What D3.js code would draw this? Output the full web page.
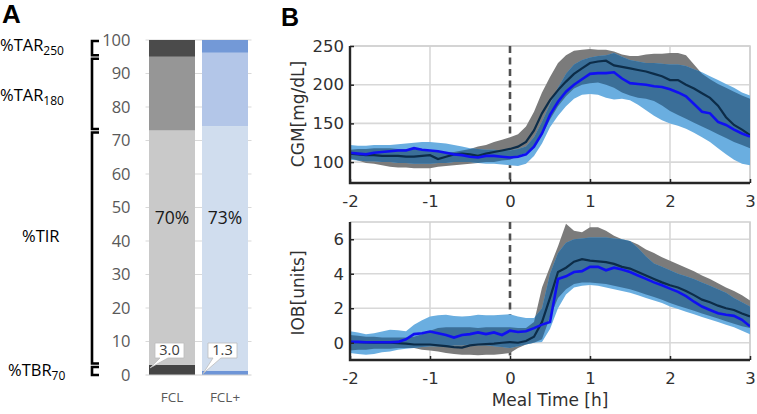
<!DOCTYPE html>
<html><head><meta charset="utf-8">
<script src="https://cdn.jsdelivr.net/npm/d3@7"></script>
<style>body{margin:0;background:#fff}svg{display:block}</style>
</head><body><svg id="c" width="757" height="414"></svg>
<script>
// ---------- Panel A data ----------
const groups = ["FCL", "FCL+"];
const segments = ["TBR", "TIR", "TAR180", "TAR250"];
const fclPct = [3.0, 70, 22, 5];
const fclPlusPct = [1.3, 73, 21.9, 3.8];
const pctTicks = [0, 10, 20, 30, 40, 50, 60, 70, 80, 90, 100];
const fclColors = ["#454545", "#c9c9c9", "#969696", "#4b4b4b"];
const fclPlusColors = ["#6e95d7", "#d0ddee", "#b3c6e8", "#7399d7"];
const bracketLabels = [
  {main: "%TAR", sub: "250"},
  {main: "%TAR", sub: "180"},
  {main: "%TIR", sub: ""},
  {main: "%TBR", sub: "70"}
];

// ---------- Panel B data ----------
const timeH = [-2.0,-1.9,-1.8,-1.7,-1.6,-1.5,-1.4,-1.3,-1.2,-1.1,-1.0,-0.9,-0.8,-0.7,-0.6,-0.5,-0.4,-0.3,-0.2,-0.1,
  0.0,0.1,0.2,0.3,0.4,0.5,0.6,0.7,0.8,0.9,1.0,1.1,1.2,1.3,1.4,1.5,1.6,1.7,1.8,1.9,
  2.0,2.1,2.2,2.3,2.4,2.5,2.6,2.7,2.8,2.9,3.0];
const xTicks = [-2, -1, 0, 1, 2, 3];

const cgmTicks = [100, 150, 200, 250];
const cgmFclMean = [111,110,109,109,108,108,108,107,107,108,109,104,107,110,111,110,108,111,113,115,
  117,120,126,141,163,180,193,204,214,221,228,230,231,225,223,221,219,217,214,211,
  206,206,200,195,189,183,173,158,148,142,135];
const cgmFclLo = [105,102,99,98,96,94,93,93,92,92,92,94,95,96,97,98,99,100,100,102,
  103,108,112,120,135,155,172,185,195,200,202,203,200,196,190,186,183,182,179,173,
  166,161,156,151,146,141,136,131,126,122,118];
const cgmFclHi = [116,117,117,118,118,118,117,117,117,115,114,113,112,113,115,117,120,122,126,129,
  132,136,146,165,190,210,228,238,244,245,246,245,245,243,239,237,237,239,240,240,
  241,241,238,226,214,207,201,196,191,186,182];
const cgmPlusMean = [112,111,110,112,113,114,115,115,118,116,115,114,112,110,109,107,106,108,108,107,
  106,107,110,120,137,161,178,191,200,207,214,215,215,216,208,202,201,200,198,197,
  194,190,185,175,165,163,152,148,142,137,133];
const cgmPlusLo = [103,102,101,101,100,100,99,99,98,98,98,99,99,100,100,100,99,98,98,97,
  96,95,98,108,124,145,160,172,182,187,188,187,183,181,182,180,174,167,160,154,
  150,147,143,138,132,126,118,110,103,98,96];
const cgmPlusHi = [122,121,121,122,122,122,123,124,125,126,126,125,124,122,120,118,117,116,116,115,
  115,117,120,132,152,175,196,214,226,232,235,237,238,241,236,232,230,228,228,227,
  226,226,224,220,216,211,206,201,196,190,186];

const iobTicks = [0, 2, 4, 6];
const iobFclMean = [0.05,0.03,0.02,0,0,0,-0.03,-0.05,-0.1,-0.1,-0.1,-0.15,-0.2,-0.25,-0.28,-0.15,-0.1,-0.08,-0.05,0,
  0.04,0,0.1,0.35,1.2,2.6,4.1,4.35,4.7,4.85,4.76,4.72,4.67,4.57,4.4,4.3,4.1,3.9,3.7,3.5,
  3.33,3.2,3.0,2.76,2.5,2.35,2.15,2.0,1.9,1.7,1.52];
const iobFclLo = [-0.45,-0.4,-0.4,-0.35,-0.35,-0.35,-0.3,-0.3,-0.3,-0.4,-0.45,-0.5,-0.6,-0.65,-0.7,-0.7,-0.72,-0.7,-0.7,-0.65,
  -0.6,-0.3,-0.1,0,0.2,1.5,2.6,3.1,3.4,3.5,3.5,3.45,3.4,3.3,3.2,3.1,2.95,2.8,2.65,2.5,
  2.3,2.15,2.0,1.85,1.7,1.55,1.4,1.25,1.1,0.95,0.85];
const iobFclHi = [0.45,0.4,0.35,0.35,0.3,0.3,0.3,0.3,0.35,0.5,0.7,0.85,0.9,0.9,0.9,0.9,0.85,0.9,0.9,0.9,
  0.9,0.85,0.85,1.2,3.2,4.4,5.6,6.9,6.5,6.4,6.7,6.7,6.5,6.2,6.0,5.9,5.7,5.4,5.2,4.95,
  4.75,4.55,4.35,4.15,3.9,3.7,3.45,3.2,3.0,2.75,2.45];
const iobPlusMean = [0.05,0.05,0.03,0.03,0.03,0.03,0.05,0.2,0.5,0.55,0.65,0.55,0.45,0.3,0.45,0.5,0.6,0.5,0.6,0.45,
  0.7,0.62,0.67,0.85,1.05,1.2,3.7,3.85,4.1,4.15,4.4,4.4,4.2,4.35,4.25,4.1,3.9,3.7,3.5,3.33,
  3.14,2.95,2.7,2.38,2.1,1.9,1.71,1.62,1.56,1.33,0.95];
const iobPlusLo = [-0.6,-0.65,-0.7,-0.65,-0.55,-0.5,-0.4,-0.35,-0.3,-0.25,-0.2,-0.2,-0.2,-0.15,-0.15,-0.1,-0.15,-0.15,-0.2,-0.25,
  -0.3,-0.2,-0.1,0,0.05,0.8,2.0,2.8,3.2,3.3,3.35,3.3,3.2,3.1,3.0,2.9,2.75,2.6,2.45,2.3,
  2.1,1.95,1.8,1.65,1.5,1.35,1.2,1.05,0.9,0.7,0.5];
const iobPlusHi = [0.67,0.6,0.5,0.55,0.65,0.76,0.72,0.67,1.05,1.3,1.52,1.6,1.62,1.55,1.52,1.55,1.62,1.6,1.6,1.62,
  1.65,1.52,1.43,1.43,2.0,4.0,5.2,5.8,6.0,6.05,6.1,6.1,6.1,6.05,6.0,5.9,5.5,5.0,4.6,4.4,
  4.2,4.0,3.85,3.7,3.5,3.3,3.1,2.9,2.6,2.35,2.1];

// ---------- drawing ----------
const svg = d3.select("#c");
const fontA = "'Open Sans', Lato, sans-serif";
const fontB = "'DejaVu Sans', 'Liberation Sans', sans-serif";

// ===== Panel A =====
svg.append("text").attr("x", 2).attr("y", 23).text("A")
  .attr("font-family", "'Liberation Sans', Arial, sans-serif").attr("font-weight", "bold").attr("font-size", 26);

const yA = d3.scaleLinear().domain([0, 100]).range([375, 40]);
const xA = d3.scaleBand().domain(groups).range([145.5, 251.5]).paddingInner(0.132).paddingOuter(0.066);
const [ax0, ax1] = xA.range();

svg.append("g").selectAll("line").data(pctTicks.filter(d => d > 0)).join("line")
  .attr("x1", ax0).attr("x2", ax1).attr("y1", d => yA(d)).attr("y2", d => yA(d))
  .attr("stroke", "#d9d9d9").attr("stroke-width", 1);

const gYA = svg.append("g").attr("transform", `translate(${ax0},0)`)
  .call(d3.axisLeft(yA).tickValues(pctTicks).tickSize(0).tickPadding(15));
gYA.select(".domain").remove();
gYA.selectAll("text").attr("font-family", fontA).attr("font-size", 16.5).attr("fill", "#595959");

const rowsA = groups.map((g, i) => {
  const vals = i === 0 ? fclPct : fclPlusPct;
  const r = {group: g};
  segments.forEach((s, j) => r[s] = vals[j]);
  return r;
});
const stackA = d3.stack().keys(segments)(rowsA);
const colorsByGroup = {"FCL": fclColors, "FCL+": fclPlusColors};

stackA.forEach((layer, j) => {
  svg.append("g").selectAll("rect").data(layer).join("rect")
    .attr("x", d => xA(d.data.group))
    .attr("width", xA.bandwidth())
    .attr("y", d => yA(d[1]))
    .attr("height", d => yA(d[0]) - yA(d[1]))
    .attr("fill", d => colorsByGroup[d.data.group][j]);
});

svg.append("line").attr("x1", ax0).attr("x2", ax1).attr("y1", yA(0)).attr("y2", yA(0))
  .attr("stroke", "#d0d0d0").attr("stroke-width", 1);

// TIR percent labels
rowsA.forEach(r => {
  svg.append("text").attr("x", xA(r.group) + xA.bandwidth() / 2).attr("y", yA(47) + 6)
    .attr("text-anchor", "middle").attr("font-family", fontA).attr("font-size", 17.5).attr("fill", "#1a1a1a")
    .text(Math.round(r.TIR) + "%");
});

// TBR callouts
rowsA.forEach(r => {
  const bx = xA(r.group) + 6, bw = 29, by = yA(10) + 1.5, bh = 15;
  const tipX = xA(r.group) + 1, tipY = yA(r.TBR) + 3;
  const p = d3.path();
  p.moveTo(bx, by); p.lineTo(bx + bw, by); p.lineTo(bx + bw, by + bh);
  p.lineTo(bx + 13, by + bh); p.lineTo(tipX, tipY); p.lineTo(bx + 5, by + bh);
  p.lineTo(bx, by + bh); p.closePath();
  svg.append("path").attr("d", p.toString()).attr("fill", "#fff").attr("stroke", "#bdbdbd").attr("stroke-width", 0.8);
  svg.append("text").attr("x", bx + bw / 2).attr("y", by + bh - 3)
    .attr("text-anchor", "middle").attr("font-family", fontA).attr("font-size", 14.5).attr("fill", "#404040")
    .text(d3.format(".1f")(r.TBR));
});

// category labels
groups.forEach(g => {
  svg.append("text").attr("x", xA(g) + xA.bandwidth() / 2).attr("y", 402)
    .attr("text-anchor", "middle").attr("font-family", fontA).attr("font-size", 13.5).attr("fill", "#595959")
    .text(g);
});

// brackets
const bracketRanges = [[95, 100], [73, 95], [3, 73], [0, 3]];
const bx = 92, bTick = 7;
bracketRanges.forEach(([lo, hi], i) => {
  const yTop = yA(hi) + (i === 0 ? 1 : 2), yBot = yA(lo) - (i === 3 ? 0 : 1.5);
  svg.append("path")
    .attr("d", `M${bx + bTick},${yTop}H${bx}V${yBot}H${bx + bTick}`)
    .attr("fill", "none").attr("stroke", "#000").attr("stroke-width", 2.6);
});
const labelPos = [[0, 51], [0, 101], [22, 242], [8, 376]];
bracketLabels.forEach((l, i) => {
  const t = svg.append("text").attr("x", labelPos[i][0]).attr("y", labelPos[i][1])
    .attr("font-family", fontA).attr("font-size", 16.5).attr("fill", "#000");
  t.append("tspan").text(l.main);
  if (l.sub) t.append("tspan").attr("font-size", 12).attr("dy", 4).text(l.sub);
});

// ===== Panel B =====
svg.append("text").attr("x", 281).attr("y", 26).text("B")
  .attr("font-family", "'Liberation Sans', Arial, sans-serif").attr("font-weight", "bold").attr("font-size", 25);

const xB = d3.scaleLinear().domain([-2, 3]).range([350, 750]);
const gridColor = "#d8d8d8";
const cGray = "#7b7b7b", cBlueBand = "#6aaee0", cOverlap = "#3b6f98";
const cNavy = "#0c2c48", cBlue = "#1010f2";

function drawPlot(id, yScale, yTicks, fcl, plus, label, labelY) {
  const [yb, yt] = yScale.range();
  const [x0, x1] = xB.range();
  const g = svg.append("g");
  g.selectAll(".hg").data(yTicks).join("line")
    .attr("x1", x0).attr("x2", x1).attr("y1", d => yScale(d)).attr("y2", d => yScale(d))
    .attr("stroke", gridColor).attr("stroke-width", 1.6);
  g.selectAll(".vg").data(xTicks.filter(d => d !== 0)).join("line")
    .attr("x1", d => xB(d)).attr("x2", d => xB(d)).attr("y1", yt).attr("y2", yb)
    .attr("stroke", gridColor).attr("stroke-width", 1.6);
  g.append("path").attr("d", `M${x0},${yt}H${x1}V${yb}`).attr("fill", "none").attr("stroke", "#d0d0d0").attr("stroke-width", 1.6);
  g.append("line").attr("x1", xB(0)).attr("x2", xB(0)).attr("y1", yt).attr("y2", yb)
    .attr("stroke", "#505050").attr("stroke-width", 2.6).attr("stroke-dasharray", "7,4.5");

  const clipId = "clip" + id, ovId = "ov" + id;
  g.append("clipPath").attr("id", clipId).append("rect").attr("x", x0).attr("y", yt).attr("width", x1 - x0).attr("height", yb - yt);
  const area = (lo, hi) => d3.area().x((d, i) => xB(timeH[i])).y0((d, i) => yScale(lo[i])).y1((d, i) => yScale(hi[i]))(timeH);
  const line = (m) => d3.line().x((d, i) => xB(timeH[i])).y((d, i) => yScale(m[i]))(timeH);
  g.append("clipPath").attr("id", ovId).append("path").attr("d", area(fcl.lo, fcl.hi));

  const pg = g.append("g").attr("clip-path", `url(#${clipId})`);
  pg.append("path").attr("d", area(fcl.lo, fcl.hi)).attr("fill", cGray);
  pg.append("path").attr("d", area(plus.lo, plus.hi)).attr("fill", cBlueBand);
  pg.append("g").attr("clip-path", `url(#${ovId})`).append("path").attr("d", area(plus.lo, plus.hi)).attr("fill", cOverlap);
  pg.append("path").attr("d", line(fcl.mean)).attr("fill", "none").attr("stroke", cNavy).attr("stroke-width", 2.2);
  pg.append("path").attr("d", line(plus.mean)).attr("fill", "none").attr("stroke", cBlue).attr("stroke-width", 2.6);

  const gx = g.append("g").attr("transform", `translate(0,${yb})`)
    .call(d3.axisBottom(xB).tickValues(xTicks).tickSizeInner(-4).tickSizeOuter(0).tickPadding(12).tickFormat(d3.format("d")));
  const gy = g.append("g").attr("transform", `translate(${x0},0)`)
    .call(d3.axisLeft(yScale).tickValues(yTicks).tickSizeInner(-4).tickSizeOuter(0).tickPadding(6));
  [gx, gy].forEach(a => {
    a.select(".domain").remove();
    a.selectAll("line").attr("stroke", "#262626").attr("stroke-width", 1.5);
    a.selectAll("text").attr("font-family", fontB).attr("font-size", 16.5).attr("fill", "#303030");
  });
  gx.selectAll("text").text(d => d < 0 ? "-" + Math.abs(d) : d);
  g.append("path").attr("d", `M${x0},${yt}V${yb}H${x1}`).attr("fill", "none").attr("stroke", "#262626").attr("stroke-width", 2.4);

  g.append("text").attr("transform", `translate(304,${labelY}) rotate(-90)`).attr("text-anchor", "middle")
    .attr("font-family", fontB).attr("font-size", 17).attr("fill", "#303030").text(label);
}

const yCgm = d3.scaleLinear().domain([73, 250]).range([183, 46]);
const yIob = d3.scaleLinear().domain([-1, 7]).range([360, 222]);

drawPlot("cgm", yCgm, cgmTicks,
  {mean: cgmFclMean, lo: cgmFclLo, hi: cgmFclHi},
  {mean: cgmPlusMean, lo: cgmPlusLo, hi: cgmPlusHi}, "CGM[mg/dL]", 114);
drawPlot("iob", yIob, iobTicks,
  {mean: iobFclMean, lo: iobFclLo, hi: iobFclHi},
  {mean: iobPlusMean, lo: iobPlusLo, hi: iobPlusHi}, "IOB[units]", 293);

svg.append("text").attr("x", 550).attr("y", 406).attr("text-anchor", "middle")
  .attr("font-family", fontB).attr("font-size", 17).attr("fill", "#303030").text("Meal Time [h]");
</script></body></html>
